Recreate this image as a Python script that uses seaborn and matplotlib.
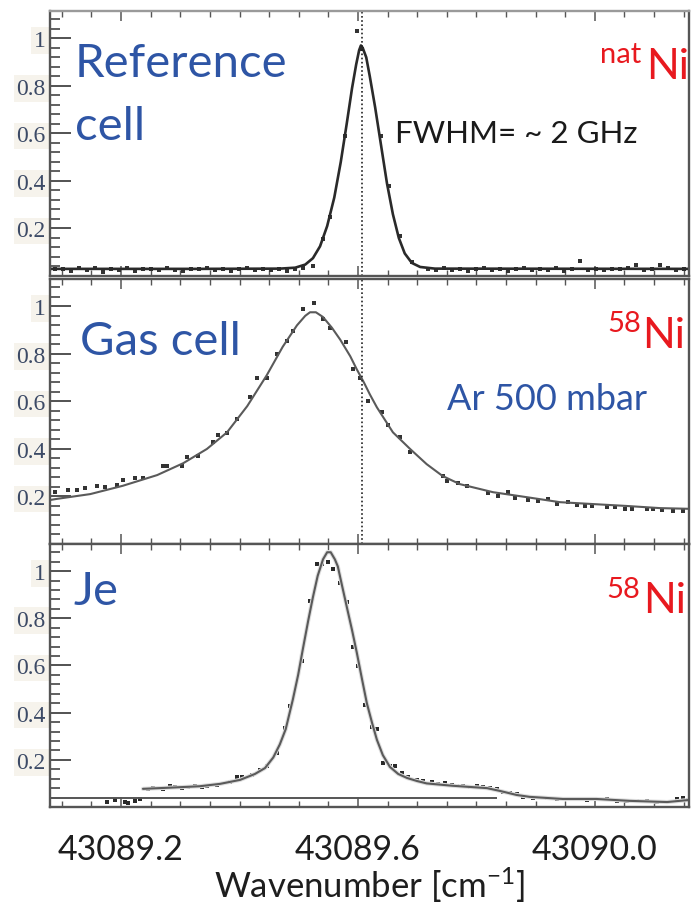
import numpy as np
import pandas as pd
import seaborn as sns
import matplotlib.pyplot as plt
from matplotlib.ticker import MultipleLocator, FixedLocator

# ---- panel 1: reference cell (natNi) ----
ref_fit_x = [43089.080, 43089.333, 43089.468, 43089.494, 43089.511, 43089.524, 43089.536,
             43089.548, 43089.560, 43089.571, 43089.581, 43089.590, 43089.597, 43089.602,
             43089.605, 43089.608, 43089.614, 43089.620, 43089.629, 43089.639, 43089.649,
             43089.659, 43089.669, 43089.679, 43089.691, 43089.705, 43089.730, 43090.160]
ref_fit_y = [0.030, 0.030, 0.031, 0.035, 0.048, 0.075, 0.125, 0.21, 0.33, 0.48, 0.64,
             0.79, 0.89, 0.95, 0.97, 0.96, 0.92, 0.84, 0.71, 0.55, 0.39, 0.26, 0.16,
             0.095, 0.055, 0.038, 0.031, 0.030]
ref_pts_x = [43089.089, 43089.102, 43089.116, 43089.129, 43089.143, 43089.156, 43089.170,
             43089.183, 43089.197, 43089.210, 43089.224, 43089.237, 43089.251, 43089.264,
             43089.278, 43089.291, 43089.305, 43089.318, 43089.332, 43089.345, 43089.359,
             43089.372, 43089.386, 43089.399, 43089.413, 43089.426, 43089.440, 43089.453,
             43089.467, 43089.480, 43089.494, 43089.507,
             43089.524, 43089.541, 43089.553, 43089.578, 43089.598, 43089.607, 43089.639,
             43089.652, 43089.671, 43089.691,
             43089.718, 43089.732, 43089.745, 43089.759, 43089.772, 43089.786, 43089.799,
             43089.813, 43089.826, 43089.840, 43089.853, 43089.867, 43089.880, 43089.894,
             43089.907, 43089.921, 43089.934, 43089.948, 43089.961, 43089.975, 43089.988,
             43090.002, 43090.015, 43090.029, 43090.042, 43090.056, 43090.069, 43090.083,
             43090.096, 43090.110, 43090.123, 43090.137, 43090.150]
ref_pts_y = [0.030, 0.028, 0.020, 0.032, 0.025, 0.033, 0.018, 0.030, 0.026, 0.034, 0.022,
             0.029, 0.031, 0.024, 0.033, 0.027, 0.020, 0.031, 0.028, 0.034, 0.025, 0.030,
             0.022, 0.029, 0.033, 0.026, 0.031, 0.024, 0.029, 0.021, 0.030, 0.034,
             0.040, 0.155, 0.25, 0.59, 1.03, 0.955, 0.59, 0.38, 0.17, 0.06,
             0.030, 0.024, 0.033, 0.027, 0.031, 0.022, 0.029, 0.034, 0.025, 0.030, 0.021,
             0.028, 0.032, 0.024, 0.030, 0.027, 0.033, 0.022, 0.029, 0.062, 0.026, 0.031,
             0.024, 0.030, 0.028, 0.033, 0.047, 0.025, 0.030, 0.045, 0.032, 0.026, 0.031]

# ---- panel 2: gas cell (58Ni, Ar 500 mbar) ----
gas_fit_x = [43089.080, 43089.092, 43089.148, 43089.203, 43089.261, 43089.305, 43089.345,
             43089.379, 43089.413, 43089.446, 43089.473, 43089.497, 43089.511, 43089.519,
             43089.529, 43089.541, 43089.556, 43089.570, 43089.587, 43089.598, 43089.610,
             43089.620, 43089.632, 43089.659, 43089.688, 43089.716, 43089.743, 43089.772,
             43089.828, 43089.885, 43089.941, 43089.997, 43090.054, 43090.110, 43090.160]
gas_fit_y = [0.185, 0.19, 0.21, 0.245, 0.29, 0.34, 0.40, 0.47, 0.58, 0.71, 0.83, 0.92,
             0.96, 0.975, 0.975, 0.955, 0.91, 0.86, 0.79, 0.735, 0.68, 0.63, 0.575, 0.47,
             0.40, 0.336, 0.286, 0.252, 0.218, 0.197, 0.176, 0.168, 0.16, 0.151, 0.148]
gas_pts_x = [43089.089, 43089.111, 43089.126, 43089.139, 43089.159, 43089.173, 43089.193,
             43089.203, 43089.224, 43089.237, 43089.271, 43089.278, 43089.303, 43089.311,
             43089.330, 43089.355, 43089.364, 43089.379, 43089.396, 43089.418, 43089.430,
             43089.446, 43089.463, 43089.480, 43089.490, 43089.507, 43089.526, 43089.541,
             43089.553, 43089.580, 43089.592, 43089.603, 43089.617, 43089.641, 43089.651,
             43089.671, 43089.688, 43089.743, 43089.750, 43089.769, 43089.784, 43089.819,
             43089.836, 43089.853, 43089.865, 43089.887, 43089.904, 43089.921, 43089.936,
             43089.954, 43089.970, 43089.983, 43089.995, 43090.020, 43090.034, 43090.051,
             43090.062, 43090.088, 43090.098, 43090.113, 43090.132, 43090.149]
gas_pts_y = [0.22, 0.227, 0.227, 0.235, 0.243, 0.24, 0.25, 0.27, 0.276, 0.276, 0.33, 0.33,
             0.33, 0.365, 0.37, 0.43, 0.46, 0.466, 0.525, 0.62, 0.70, 0.70, 0.80, 0.855,
             0.895, 0.99, 1.015, 0.945, 0.91, 0.85, 0.735, 0.70, 0.60, 0.555, 0.50, 0.45,
             0.385, 0.285, 0.265, 0.256, 0.244, 0.214, 0.20, 0.218, 0.193, 0.185, 0.18,
             0.19, 0.168, 0.176, 0.164, 0.16, 0.16, 0.155, 0.155, 0.147, 0.147, 0.147,
             0.147, 0.143, 0.14, 0.14]

# ---- panel 3: jet (58Ni) ----
jet_fit_x = [43089.237, 43089.283, 43089.333, 43089.367, 43089.401, 43089.426, 43089.443,
             43089.457, 43089.468, 43089.478, 43089.490, 43089.499, 43089.507, 43089.516,
             43089.524, 43089.532, 43089.541, 43089.548, 43089.554, 43089.561, 43089.566,
             43089.573, 43089.581, 43089.590, 43089.598, 43089.607, 43089.615, 43089.624,
             43089.632, 43089.642, 43089.654, 43089.668, 43089.683, 43089.700, 43089.716,
             43089.738, 43089.760, 43089.789, 43089.818, 43089.840, 43089.868, 43089.890,
             43089.946, 43090.003, 43090.059, 43090.122, 43090.160]
jet_fit_y = [0.077, 0.082, 0.088, 0.098, 0.115, 0.14, 0.165, 0.21, 0.265, 0.33, 0.455,
             0.56, 0.67, 0.79, 0.89, 0.98, 1.05, 1.08, 1.08, 1.05, 1.02, 0.94, 0.85,
             0.75, 0.655, 0.54, 0.44, 0.355, 0.285, 0.22, 0.17, 0.14, 0.123, 0.11, 0.10,
             0.095, 0.09, 0.085, 0.08, 0.068, 0.051, 0.043, 0.034, 0.034, 0.026, 0.021, 0.03]
jet_pts_x = [43089.176, 43089.190, 43089.207, 43089.212, 43089.224, 43089.232, 43089.246,
             43089.254, 43089.271, 43089.283, 43089.291, 43089.303, 43089.313, 43089.325,
             43089.337, 43089.345, 43089.362, 43089.384, 43089.396, 43089.404, 43089.421,
             43089.435, 43089.446, 43089.463, 43089.477, 43089.485, 43089.505, 43089.519,
             43089.531, 43089.539, 43089.549, 43089.558, 43089.570, 43089.581, 43089.592,
             43089.600, 43089.612, 43089.624, 43089.632, 43089.642, 43089.654, 43089.662,
             43089.674, 43089.684, 43089.700, 43089.710, 43089.725, 43089.735, 43089.747,
             43089.759, 43089.767, 43089.777, 43089.789, 43089.801, 43089.811, 43089.823,
             43089.835, 43089.845, 43089.857, 43089.868, 43089.878, 43089.895, 43089.919,
             43089.936, 43089.953, 43089.970, 43089.987, 43090.003, 43090.020, 43090.037,
             43090.054, 43090.071, 43090.088, 43090.105, 43090.122, 43090.138, 43090.149,
             43090.157]
jet_pts_y = [0.023, 0.03, 0.023, 0.016, 0.027, 0.032, 0.075, 0.079, 0.075, 0.087, 0.084,
             0.079, 0.084, 0.087, 0.084, 0.089, 0.094, 0.108, 0.126, 0.126, 0.136, 0.157,
             0.172, 0.229, 0.335, 0.427, 0.62, 0.874, 1.03, 1.03, 1.04, 1.01, 0.95, 0.87,
             0.68, 0.597, 0.434, 0.34, 0.33, 0.186, 0.175, 0.172, 0.143, 0.126, 0.115,
             0.112, 0.105, 0.098, 0.101, 0.094, 0.089, 0.087, 0.084, 0.087, 0.084, 0.079,
             0.075, 0.065, 0.058, 0.055, 0.044, 0.040, 0.037, 0.034, 0.033, 0.033, 0.031,
             0.034, 0.033, 0.027, 0.027, 0.027, 0.027, 0.023, 0.023, 0.033, 0.037, 0.03]
# baseline of the pasted inset in the jet panel
jet_base_x = [43089.080, 43089.835]
jet_base_y = 0.04

# common axis settings
x_lim = (43089.080, 43090.159)
y_lim = (0, 1.115)
x_ticks = [43089.2, 43089.6, 43090.0]
x_ticklabels = ['43089.2', '43089.6', '43090.0']
y_ticks = [0, 0.2, 0.4, 0.6, 0.8, 1.0]
y_ticklabels = ['', '0.2', '0.4', '0.6', '0.8', '1']
ref_line_x = 43089.607

blue = '#2E55A5'
red = '#E8191F'

sns.set_style('white')
plt.rcParams['font.family'] = ['Lato', 'DejaVu Sans']
plt.rcParams['mathtext.fontset'] = 'custom'
plt.rcParams['mathtext.rm'] = 'Lato'
plt.rcParams['mathtext.it'] = 'Lato'

W, H = 691, 912
fig = plt.figure(figsize=(W / 100, H / 100), dpi=100)


def px_axes(top, bottom):
    return fig.add_axes([50 / W, 1 - bottom / H, 639 / W, (bottom - top) / H])


def style_panel(ax, top_color='#555555'):
    ax.set_xlim(*x_lim)
    ax.set_ylim(*y_lim)
    ax.yaxis.set_major_locator(FixedLocator(y_ticks))
    ax.set_yticklabels(y_ticklabels, family=['Liberation Serif'], fontsize=17, color='#3c4a66')
    for lab in ax.get_yticklabels():
        lab.set_bbox(dict(boxstyle='square,pad=0.12', fc='#f6f3ec', ec='none'))
    ax.yaxis.set_minor_locator(MultipleLocator(0.04))
    ax.tick_params(axis='y', which='major', direction='in', length=15, width=1.3,
                   color='#444444', pad=3, left=True, right=False)
    ax.tick_params(axis='y', which='minor', direction='in', length=7, width=1.2,
                   color='#444444', left=True, right=False)
    ax.xaxis.set_major_locator(FixedLocator(x_ticks))
    ax.xaxis.set_minor_locator(MultipleLocator(0.05))
    ax.tick_params(axis='x', which='major', direction='in', length=7, width=1.1,
                   color='#555555', top=True, bottom=True)
    ax.tick_params(axis='x', which='minor', direction='in', length=4, width=1.0,
                   color='#555555', top=True, bottom=True)
    ax.set_xlabel('')
    ax.set_ylabel('')
    for side, sp in ax.spines.items():
        sp.set_visible(True)
        sp.set_color('#555555')
        sp.set_linewidth(1.7)
    ax.spines['top'].set_color(top_color)


def ftext(x, y, s, **kw):
    fig.text(x / W, 1 - y / H, s, va='baseline', ha='left', **kw)


# panel 1
ax1 = px_axes(12, 277)
sns.lineplot(x=ref_fit_x, y=ref_fit_y, ax=ax1, color='#2a2a2a', lw=1.9, estimator=None)
sns.scatterplot(x=ref_pts_x, y=ref_pts_y, ax=ax1, color='#333333', s=6, marker='s', linewidth=0)
ax1.axvline(ref_line_x, color='#222222', lw=1.2, ls=(0, (1, 1.5)))
style_panel(ax1, top_color='#9a9a9a')
ax1.tick_params(axis='x', labelbottom=False)

# panel 2
ax2 = px_axes(280, 545)
sns.lineplot(x=gas_fit_x, y=gas_fit_y, ax=ax2, color='#5a5a5a', lw=1.5, estimator=None)
sns.scatterplot(x=gas_pts_x, y=gas_pts_y, ax=ax2, color='#333333', s=7, marker='s', linewidth=0)
ax2.axvline(ref_line_x, color='#222222', lw=1.2, ls=(0, (1, 1.5)))
style_panel(ax2)
ax2.tick_params(axis='x', labelbottom=False)

# panel 3
ax3 = px_axes(545, 808)
ax3.hlines(jet_base_y, jet_base_x[0], jet_base_x[1], color='#555555', lw=1.4)
sns.lineplot(x=jet_fit_x, y=jet_fit_y, ax=ax3, color='#dedede', lw=3.0, estimator=None)
sns.lineplot(x=jet_fit_x, y=jet_fit_y, ax=ax3, color='#5a5a5a', lw=1.5, estimator=None)
sns.scatterplot(x=jet_pts_x, y=jet_pts_y, ax=ax3, color='#2a2a2a', s=8, marker='s', linewidth=0)
style_panel(ax3)
ax3.set_xticklabels(x_ticklabels, fontsize=24.5, color='#1e1e1e')
ax3.tick_params(axis='x', which='major', pad=19)
ax3.set_xlabel('Wavenumber [cm$^{-1}$]', fontsize=25, color='#1e1e1e', labelpad=0)

# annotations
ftext(75, 77, 'Reference', fontsize=34, color=blue)
ftext(75, 140, 'cell', fontsize=34, color=blue)
ftext(395, 143, 'FWHM= ~ 2 GHz', fontsize=22.5, color='#1a1a1a')
ftext(600, 63, 'nat', fontsize=21, color=red)
ftext(646, 79, 'Ni', fontsize=31, color=red)

ftext(80, 355, 'Gas cell', fontsize=34, color=blue)
ftext(607, 332, '58', fontsize=21, color=red)
ftext(642, 348, 'Ni', fontsize=31, color=red)
ftext(447, 410, 'Ar 500 mbar', fontsize=26, color=blue)

ftext(73, 605, 'Je', fontsize=34, color=blue)
ftext(606, 598, '58', fontsize=21, color=red)
ftext(643, 613, 'Ni', fontsize=31, color=red)

fig.savefig('out.png', dpi=100)
